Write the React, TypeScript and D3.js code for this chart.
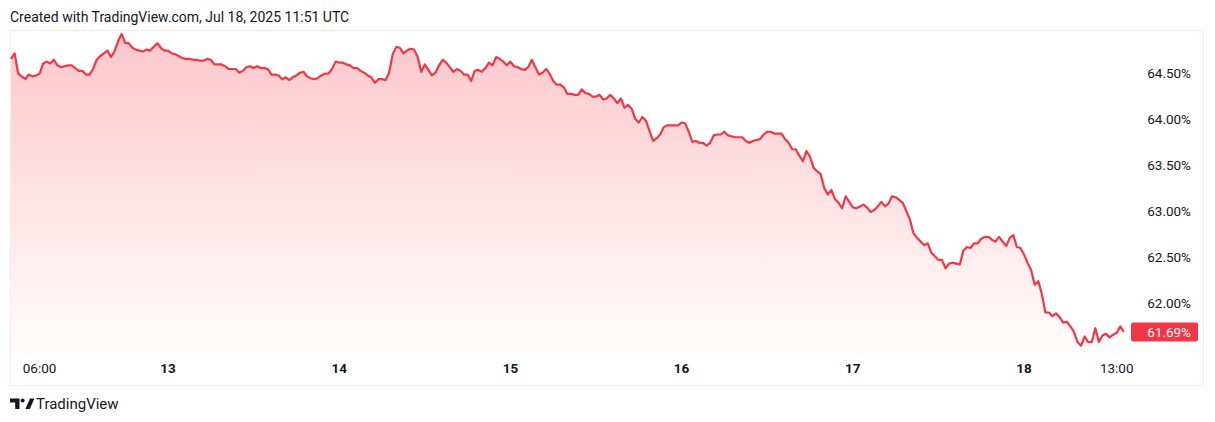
import React, { useRef, useEffect } from 'react'
import * as d3 from 'd3'

const WIDTH = 1215
const HEIGHT = 422

// BTC dominance, 30 minute samples from Jul 12 2025 02:00
const seriesStart = Date.UTC(2025, 6, 12, 2, 0)
const stepMinutes = 30
const dominance = [
  64.65, 64.71, 64.49, 64.46, 64.43, 64.48, 64.46, 64.47, 64.49, 64.60,
  64.62, 64.60, 64.64, 64.58, 64.56, 64.57, 64.58, 64.58, 64.55, 64.52,
  64.52, 64.48, 64.48, 64.54, 64.64, 64.68, 64.71, 64.74, 64.67, 64.73,
  64.84, 64.92, 64.82, 64.82, 64.77, 64.75, 64.74, 64.73, 64.75, 64.74,
  64.78, 64.82, 64.77, 64.74, 64.74, 64.71, 64.70, 64.68, 64.66, 64.65,
  64.65, 64.64, 64.64, 64.63, 64.63, 64.65, 64.64, 64.59, 64.59, 64.59,
  64.57, 64.54, 64.54, 64.54, 64.50, 64.52, 64.56, 64.57, 64.55, 64.57,
  64.55, 64.55, 64.54, 64.48, 64.48, 64.47, 64.43, 64.45, 64.42, 64.45,
  64.47, 64.50, 64.51, 64.46, 64.44, 64.43, 64.44, 64.47, 64.49, 64.49,
  64.54, 64.62, 64.61, 64.61, 64.59, 64.58, 64.55, 64.55, 64.52, 64.50,
  64.47, 64.45, 64.39, 64.43, 64.43, 64.42, 64.50, 64.70, 64.78, 64.77,
  64.71, 64.74, 64.76, 64.75, 64.67, 64.51, 64.59, 64.53, 64.47, 64.50,
  64.58, 64.64, 64.61, 64.56, 64.51, 64.54, 64.52, 64.48, 64.48, 64.41,
  64.52, 64.53, 64.51, 64.55, 64.61, 64.58, 64.67, 64.65, 64.62, 64.58,
  64.62, 64.57, 64.56, 64.54, 64.53, 64.56, 64.64, 64.56, 64.48, 64.50,
  64.54, 64.49, 64.41, 64.37, 64.37, 64.34, 64.27, 64.27, 64.26, 64.26,
  64.32, 64.28, 64.27, 64.24, 64.24, 64.26, 64.21, 64.22, 64.26, 64.22,
  64.17, 64.22, 64.12, 64.15, 64.11, 64.00, 63.96, 64.02, 63.98, 63.87,
  63.76, 63.79, 63.83, 63.91, 63.93, 63.93, 63.93, 63.93, 63.96, 63.95,
  63.86, 63.75, 63.76, 63.74, 63.74, 63.71, 63.74, 63.82, 63.83, 63.83,
  63.86, 63.82, 63.81, 63.80, 63.80, 63.80, 63.76, 63.74, 63.76, 63.77,
  63.78, 63.83, 63.86, 63.86, 63.84, 63.84, 63.84, 63.78, 63.74, 63.67,
  63.67, 63.60, 63.54, 63.65, 63.59, 63.47, 63.43, 63.40, 63.25, 63.18,
  63.23, 63.13, 63.09, 63.03, 63.16, 63.10, 63.04, 63.03, 63.05, 63.07,
  63.04, 62.99, 63.01, 63.05, 63.10, 63.05, 63.08, 63.16, 63.15, 63.12,
  63.09, 63.00, 62.91, 62.76, 62.71, 62.67, 62.63, 62.65, 62.55, 62.51,
  62.47, 62.47, 62.38, 62.43, 62.44, 62.43, 62.42, 62.57, 62.61, 62.60,
  62.65, 62.65, 62.70, 62.72, 62.72, 62.69, 62.67, 62.72, 62.67, 62.62,
  62.71, 62.74, 62.61, 62.60, 62.53, 62.44, 62.36, 62.20, 62.24, 62.10,
  61.90, 61.90, 61.86, 61.89, 61.85, 61.79, 61.80, 61.75, 61.69, 61.58,
  61.54, 61.64, 61.58, 61.58, 61.73, 61.58, 61.65, 61.67, 61.63, 61.66,
  61.68, 61.75, 61.69
]

const priceTicks = [62.0, 62.5, 63.0, 63.5, 64.0, 64.5]
const timeTicks = [
  '2025-07-12T06:00:00Z',
  '2025-07-13T00:00:00Z',
  '2025-07-14T00:00:00Z',
  '2025-07-15T00:00:00Z',
  '2025-07-16T00:00:00Z',
  '2025-07-17T00:00:00Z',
  '2025-07-18T00:00:00Z',
  '2025-07-18T13:00:00Z'
]

const headerText = 'Created with TradingView.com, Jul 18, 2025 11:51 UTC'
const FONT = 'Roboto, "Liberation Sans", sans-serif'
const RED = '#f23645'

const TradingViewChart: React.FC = () => {
  const svgRef = useRef<SVGSVGElement>(null)

  useEffect(() => {
    if (!svgRef.current) return
    const svg = d3.select(svgRef.current)
    svg.selectAll('*').remove()

    const points = dominance.map((v, i) => ({
      date: new Date(seriesStart + i * stepMinutes * 60000),
      value: v
    }))

    // pane geometry
    const pane = { left: 10, top: 30, right: 1203, bottom: 385 }
    const plotBottom = 356

    const x = d3.scaleUtc()
      .domain([new Date(Date.UTC(2025, 6, 13)), new Date(Date.UTC(2025, 6, 18))])
      .range([168, 1024])

    const y = d3.scaleLinear()
      .domain([62.0, 64.5])
      .range([303.3, 72.7])

    svg.append('rect')
      .attr('width', WIDTH)
      .attr('height', HEIGHT)
      .attr('fill', '#ffffff')

    // header
    svg.append('text')
      .attr('x', 10)
      .attr('y', 22)
      .attr('font-family', FONT)
      .attr('font-size', 14)
      .attr('fill', '#131722')
      .text(headerText)

    // pane border
    svg.append('rect')
      .attr('x', pane.left + 0.5)
      .attr('y', pane.top + 0.5)
      .attr('width', pane.right - pane.left)
      .attr('height', pane.bottom - pane.top)
      .attr('fill', 'none')
      .attr('stroke', '#fde7e9')

    // area gradient
    const defs = svg.append('defs')
    const grad = defs.append('linearGradient')
      .attr('id', 'areaFill')
      .attr('gradientUnits', 'userSpaceOnUse')
      .attr('x1', 0).attr('x2', 0)
      .attr('y1', pane.top).attr('y2', plotBottom)
    grad.append('stop').attr('offset', 0).attr('stop-color', RED).attr('stop-opacity', 0.28)
    grad.append('stop').attr('offset', 1).attr('stop-color', RED).attr('stop-opacity', 0.01)

    const area = d3.area<{ date: Date; value: number }>()
      .x(d => x(d.date))
      .y0(plotBottom)
      .y1(d => y(d.value))

    const line = d3.line<{ date: Date; value: number }>()
      .x(d => x(d.date))
      .y(d => y(d.value))

    svg.append('path')
      .datum(points)
      .attr('d', area)
      .attr('fill', 'url(#areaFill)')

    svg.append('path')
      .datum(points)
      .attr('d', line)
      .attr('fill', 'none')
      .attr('stroke', RED)
      .attr('stroke-width', 2.2)
      .attr('stroke-linejoin', 'round')

    // price scale
    svg.append('g')
      .selectAll('text')
      .data(priceTicks)
      .enter()
      .append('text')
      .attr('x', 1191)
      .attr('y', d => y(d))
      .attr('dy', '0.36em')
      .attr('text-anchor', 'end')
      .attr('font-family', FONT)
      .attr('font-size', 13.5)
      .attr('fill', '#131722')
      .text(d => d.toFixed(2) + '%')

    // last value label
    const last = points[points.length - 1]
    const ly = y(last.value)
    svg.append('rect')
      .attr('x', 1131)
      .attr('y', ly - 9.5)
      .attr('width', 67)
      .attr('height', 19)
      .attr('rx', 2)
      .attr('fill', RED)
    svg.append('text')
      .attr('x', 1191)
      .attr('y', ly)
      .attr('dy', '0.36em')
      .attr('text-anchor', 'end')
      .attr('font-family', FONT)
      .attr('font-size', 13.5)
      .attr('fill', '#ffffff')
      .text(last.value.toFixed(2) + '%')

    // time scale
    svg.append('g')
      .selectAll('text')
      .data(timeTicks.map(t => new Date(t)))
      .enter()
      .append('text')
      .attr('x', d => x(d))
      .attr('y', 373)
      .attr('text-anchor', 'middle')
      .attr('font-family', FONT)
      .attr('font-size', 13.5)
      .attr('font-weight', d => (d.getUTCHours() === 0 ? 700 : 400))
      .attr('fill', '#131722')
      .text(d => (d.getUTCHours() === 0 ? d3.utcFormat('%-d')(d) : d3.utcFormat('%H:%M')(d)))

    // logo
    const logo = svg.append('g').attr('fill', '#131722')
    logo.append('path').attr('d', 'M10 398.5h9.5v10.5h-4.3v-6.6h-5.2z')
    logo.append('circle').attr('cx', 22.6).attr('cy', 400.5).attr('r', 2)
    logo.append('path').attr('d', 'M25.4 409l4.6-10.5h4.4l-4.6 10.5z')
    logo.append('text')
      .attr('x', 36)
      .attr('y', 408.5)
      .attr('font-family', FONT)
      .attr('font-size', 15)
      .text('TradingView')
  }, [])

  return <svg ref={svgRef} width={WIDTH} height={HEIGHT} style={{ display: 'block' }} />
}

export default function App() {
  return (
    <div style={{ position: 'fixed', left: 0, top: 0, background: '#fff' }}>
      <TradingViewChart />
    </div>
  )
}
